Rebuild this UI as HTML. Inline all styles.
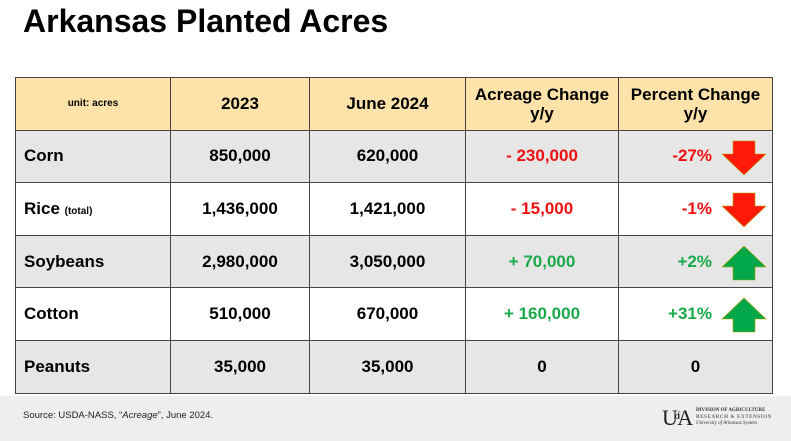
<!DOCTYPE html>
<html><head><style>
*{margin:0;padding:0;box-sizing:border-box}
body{width:791px;height:441px;background:#fff;font-family:"Liberation Sans",Arial,sans-serif;position:relative;overflow:hidden}
.title{position:absolute;left:23px;top:3px;font-size:32px;font-weight:bold;color:#000}
.foot{position:absolute;left:0;top:396px;width:791px;height:45px;background:#eeeeee}
table{position:absolute;left:15px;top:77px;border-collapse:collapse;font-weight:bold}
td{border:1.5px solid #444;height:52.6px;font-size:17px;text-align:center;color:#000;position:relative}
tr.h td{background:#fde3a9;font-size:17px;line-height:19px}
tr.g td{background:#e6e6e6}
tr.w td{background:#fff}
td.n{text-align:left;padding-left:8px}
.r{color:#ee1111}.gr{color:#1aaa4a}
td.p{text-align:right;padding-right:60px}
.arr{position:absolute;right:5px;top:9px}
.src{position:absolute;left:23px;top:410px;font-size:9.5px;color:#222}
.logo{position:absolute;left:662px;top:405px;font-family:"Liberation Serif",serif;width:110px;height:26px}
</style></head><body>
<div class="foot"></div>
<div class="title">Arkansas Planted Acres</div>
<table>
<tr class="h"><td style="width:155px;font-size:10px">unit: acres</td><td style="width:139px">2023</td><td style="width:156px">June 2024</td><td style="width:153px">Acreage Change<br>y/y</td><td style="width:154px">Percent Change<br>y/y</td></tr>
<tr class="g"><td class="n">Corn</td><td>850,000</td><td>620,000</td><td class="r">- 230,000</td><td class="p r">-27%<svg class="arr" width="46" height="36" viewBox="0 0 46 36"><polygon points="12,1 34,1 34,14 45,14 23,35 1,14 12,14" fill="#ff1a0a" stroke="#b9a000" stroke-width="0.6"/></svg></td></tr>
<tr class="w"><td class="n">Rice <span style="font-size:10px">(total)</span></td><td>1,436,000</td><td>1,421,000</td><td class="r">- 15,000</td><td class="p r">-1%<svg class="arr" width="46" height="36" viewBox="0 0 46 36"><polygon points="12,1 34,1 34,14 45,14 23,35 1,14 12,14" fill="#ff1a0a" stroke="#b9a000" stroke-width="0.6"/></svg></td></tr>
<tr class="g"><td class="n">Soybeans</td><td>2,980,000</td><td>3,050,000</td><td class="gr">+ 70,000</td><td class="p gr">+2%<svg class="arr" width="46" height="36" viewBox="0 0 46 36"><polygon points="12,35 34,35 34,22 45,22 23,1 1,22 12,22" fill="#00a84a" stroke="#b9a000" stroke-width="0.6"/></svg></td></tr>
<tr class="w"><td class="n">Cotton</td><td>510,000</td><td>670,000</td><td class="gr">+ 160,000</td><td class="p gr">+31%<svg class="arr" width="46" height="36" viewBox="0 0 46 36"><polygon points="12,35 34,35 34,22 45,22 23,1 1,22 12,22" fill="#00a84a" stroke="#b9a000" stroke-width="0.6"/></svg></td></tr>
<tr class="g"><td class="n">Peanuts</td><td>35,000</td><td>35,000</td><td>0</td><td>0</td></tr>
</table>
<div class="src">Source: USDA-NASS, “<i>Acreage</i>”, June 2024.</div>
<div class="logo"><span style="position:absolute;left:0;top:0;font-size:22px;line-height:24px;color:#222;letter-spacing:-3px">U<span style="font-size:10px;vertical-align:6px">of</span>A</span>
<div style="position:absolute;left:34px;top:3px;font-size:5px;line-height:6.5px;color:#333;white-space:nowrap;font-weight:bold">DIVISION OF AGRICULTURE<br><span style="color:#666;letter-spacing:0.6px">RESEARCH &amp; EXTENSION</span><br><i style="font-weight:normal">University of Arkansas System</i></div></div>
</body></html>
